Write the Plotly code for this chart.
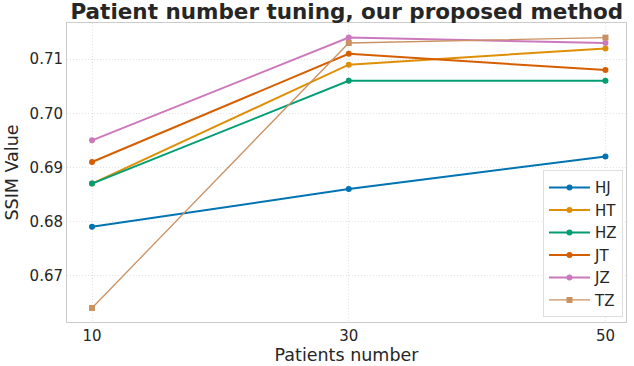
import plotly.graph_objects as go

patients = [10, 30, 50]
hj = [0.679, 0.686, 0.692]
ht = [0.687, 0.709, 0.712]
hz = [0.687, 0.706, 0.706]
jt = [0.691, 0.711, 0.708]
jz = [0.695, 0.714, 0.713]
tz = [0.664, 0.713, 0.714]

series = [
    ("HJ", hj, "#0173B2", "circle", 2),
    ("HT", ht, "#DE8F05", "circle", 2),
    ("HZ", hz, "#029E73", "circle", 2),
    ("JT", jt, "#D55E00", "circle", 2),
    ("JZ", jz, "#CC78BC", "circle", 2),
    ("TZ", tz, "#CA9161", "square", 1.3),
]

fig = go.Figure()
for name, vals, col, sym, lw in series:
    fig.add_trace(go.Scatter(
        x=patients, y=vals, name=name, mode="lines+markers",
        line=dict(color=col, width=lw),
        marker=dict(color=col, size=6, symbol=sym),
    ))

font = "DejaVu Sans"
axis_common = dict(
    showline=True, linecolor="#cccccc", linewidth=1, mirror=True,
    showgrid=True, gridcolor="#e3e3e3", griddash="1px,2px", gridwidth=1,
    zeroline=False, ticks="", tickfont=dict(size=15, color="#262626"),
)

fig.update_layout(
    width=634, height=366,
    margin=dict(l=67, r=7, t=23, b=39),
    paper_bgcolor="white", plot_bgcolor="white",
    font=dict(family=font, color="#262626"),
    title=dict(text="<b>Patient number tuning, our proposed method</b>",
               x=0.547, xanchor="center", y=0.97, yanchor="middle",
               font=dict(size=21.5, color="#262626")),
    xaxis=dict(axis_common, range=[8.05, 51.6], tickvals=patients,
               title=dict(text="Patients number", font=dict(size=17.5), standoff=2)),
    yaxis=dict(axis_common, range=[0.6614, 0.7167],
               tickvals=[0.67, 0.68, 0.69, 0.70, 0.71],
               ticktext=["0.67", "0.68", "0.69", "0.70", "0.71"],
               title=dict(text="SSIM Value", font=dict(size=17.5), standoff=6)),
    legend=dict(x=0.9946, xanchor="right", y=0.016, yanchor="bottom",
                bgcolor="white", bordercolor="#dddddd", borderwidth=1,
                font=dict(size=15, color="#262626"), tracegroupgap=0,
                itemwidth=41),
    showlegend=True,
)

fig.write_html("out.html", config={"displayModeBar": False},
               post_script="document.body.style.margin='0px';")
